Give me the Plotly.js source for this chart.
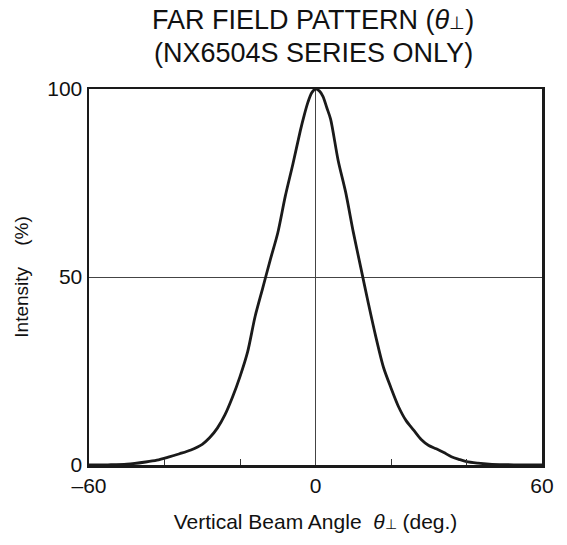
<!DOCTYPE html>
<html>
<head>
<meta charset="utf-8">
<script src="https://cdn.plot.ly/plotly-3.0.1.min.js"></script>
<style>html,body{margin:0;padding:0;background:#fff;}</style>
</head>
<body>
<div id="chart" style="width:567px;height:545px;"></div>
<script>
const angle = [-60,-55,-50,-45,-42,-39,-36,-33,-30,-28,-26,-24,-22,-20,-18,-16,-14,-12,-10,-8,-6,-4,-3,-2,-1,0,1,2,3,4,6,8,10,12,14,16,18,20,22,24,26,28,30,32,34,36,38,40,43,46,50,55,60];
const intensity = [0,0.05,0.2,0.8,1.3,2.1,3.0,4.0,5.5,7.3,9.8,13.3,18,23.5,30,39.5,47,54.5,61.7,71.5,80,89,93,96.5,99,100,99.5,98,95,92,81,72.5,62,52.5,43,34,26,20.5,15.5,11.8,9.3,6.8,5.2,4.3,3.3,2.2,1.5,0.9,0.5,0.25,0.1,0.03,0];
const xTickVals = [-60,0,60];
const xTickText = ['\u201360','0','60'];
const xMinorVals = [-40,-20,20,40];
const yTickVals = [0,50,100];
const titleLines = ['FAR FIELD PATTERN (<i>θ</i><span style="font-size:18px">⊥</span>)', '(NX6504S SERIES ONLY)'];

const font = 'Liberation Sans, Arial, sans-serif';
Plotly.newPlot('chart', [{
  x: angle, y: intensity, type: 'scatter', mode: 'lines',
  line: {color: '#1a1a1a', width: 2.8, shape: 'spline', smoothing: 0.8},
  hoverinfo: 'skip'
}], {
  width: 567, height: 545,
  margin: {l: 89, r: 25, t: 89, b: 80},
  paper_bgcolor: '#fff', plot_bgcolor: '#fff',
  showlegend: false,
  font: {family: font, color: '#111', size: 21},
  annotations: [
    {text: titleLines[0], xref: 'paper', yref: 'paper', x: 0.4945, y: 1.1835, xanchor: 'center', yanchor: 'middle', showarrow: false, font: {family: font, size: 27, color: '#111'}},
    {text: titleLines[1], xref: 'paper', yref: 'paper', x: 0.4945, y: 1.0957, xanchor: 'center', yanchor: 'middle', showarrow: false, font: {family: font, size: 27, color: '#111'}}
  ],
  xaxis: {
    range: [-60, 60], tickvals: xTickVals, ticktext: xTickText,
    ticks: '', showgrid: true, gridcolor: '#444', gridwidth: 1,
    zeroline: false, showline: true, mirror: true, linecolor: '#1a1a1a', linewidth: 2.5,
    minor: {tickvals: xMinorVals, ticks: 'inside', ticklen: 6, tickcolor: '#333', tickwidth: 1, showgrid: false},
    tickfont: {size: 21},
    title: {text: 'Vertical Beam Angle&nbsp; <i>θ</i><span style="font-size:14px">⊥</span> (deg.)', font: {size: 21}, standoff: 19}
  },
  yaxis: {
    range: [0, 100], tickvals: yTickVals,
    ticks: '', showgrid: true, gridcolor: '#444', gridwidth: 1,
    zeroline: false, showline: true, mirror: true, linecolor: '#1a1a1a', linewidth: 2.5,
    tickfont: {size: 21},
    title: {text: 'Intensity&nbsp;&nbsp;&nbsp; (%)', font: {size: 19}, standoff: 14}
  }
}, {staticPlot: true});
</script>
</body>
</html>
